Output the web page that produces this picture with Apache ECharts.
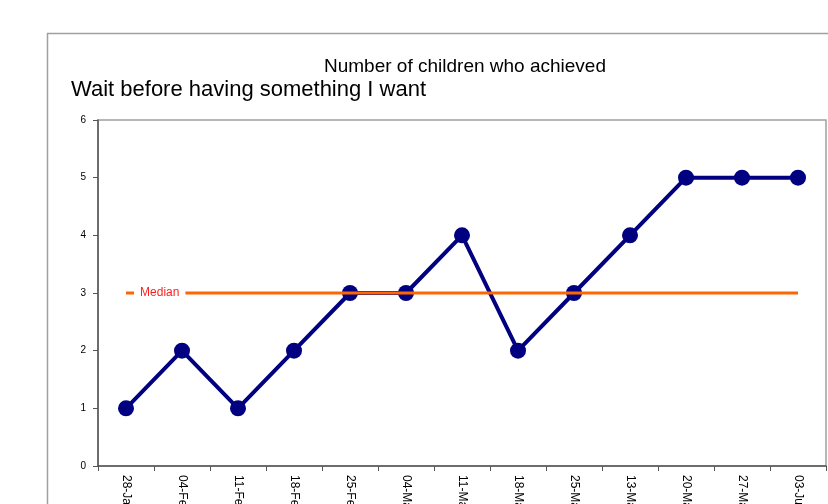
<!DOCTYPE html>
<html><head><meta charset="utf-8">
<script src="https://cdn.jsdelivr.net/npm/echarts@6/dist/echarts.min.js"></script>
<style>html,body{margin:0;padding:0;background:#fff}#c{width:828px;height:504px}</style>
</head><body><div id="c"></div>
<script>
const categories = ['28-Jan','04-Feb','11-Feb','18-Feb','25-Feb','04-Mar','11-Mar','18-Mar','25-Mar','13-May','20-May','27-May','03-Jun'];
const achieved = [1,2,1,2,3,3,4,2,3,4,5,5,5];
const medianValue = 3;
const medianValues = categories.map(() => medianValue);
const yTicks = [0,1,2,3,4,5,6];

const chart = echarts.init(document.getElementById('c'), null, {renderer:'canvas'});
const font = '"Liberation Sans", Arial, sans-serif';
const medianData = medianValues.map((v,i) => i === 0 ? {value:v, label:{show:true, formatter:'Median'}} : v);
chart.setOption({
  animation:false,
  backgroundColor:'#fff',
  textStyle:{fontFamily:font},
  title:[
    {text:'Number of children who achieved', left:460, top:52, textAlign:'center',
     textStyle:{fontSize:19, fontWeight:'normal', color:'#000', fontFamily:font}},
    {text:'Wait before having something I want', left:66, top:74,
     textStyle:{fontSize:22, fontWeight:'normal', color:'#000', fontFamily:font}}
  ],
  graphic:[{type:'rect', shape:{x:47.5,y:33.5,width:900,height:600}, style:{fill:'none',stroke:'#a0a0a0',lineWidth:1.5}, z:-1}],
  grid:{left:98, right:2, top:120, bottom:38, show:true, borderColor:'#a0a0a0', borderWidth:1.5, backgroundColor:'transparent',
        containLabel:false, outerBoundsMode:'none'},
  xAxis:{type:'category', data:categories, boundaryGap:true,
    axisLine:{lineStyle:{color:'#555', width:1.5}},
    axisTick:{show:true, length:5, lineStyle:{color:'#555'}},
    axisLabel:{rotate:-90, fontSize:12, color:'#000', margin:9, fontFamily:font, hideOverlap:false}},
  yAxis:{type:'value', min:yTicks[0], max:yTicks[yTicks.length-1], interval:1,
    splitLine:{show:false},
    axisLine:{show:true, lineStyle:{color:'#555', width:1.5}},
    axisTick:{show:true, length:5, lineStyle:{color:'#555'}},
    axisLabel:{fontSize:10, color:'#000', margin:12, fontFamily:font}},
  series:[
    {name:'Achieved', type:'line', data:achieved, symbol:'circle', symbolSize:16,
     lineStyle:{color:'#000080', width:4}, itemStyle:{color:'#000080'}, z:2},
    {name:'Median', type:'line', data:medianData, symbol:'circle', symbolSize:0.1, showSymbol:true,
     lineStyle:{color:'#ff6600', width:3}, itemStyle:{color:'#ff6600'}, z:3,
     label:{show:false, position:'right', distance:8, color:'#ff2020', fontSize:12, backgroundColor:'#fff', padding:[2,6,2,6], fontFamily:font}}
  ]
});
</script></body></html>
